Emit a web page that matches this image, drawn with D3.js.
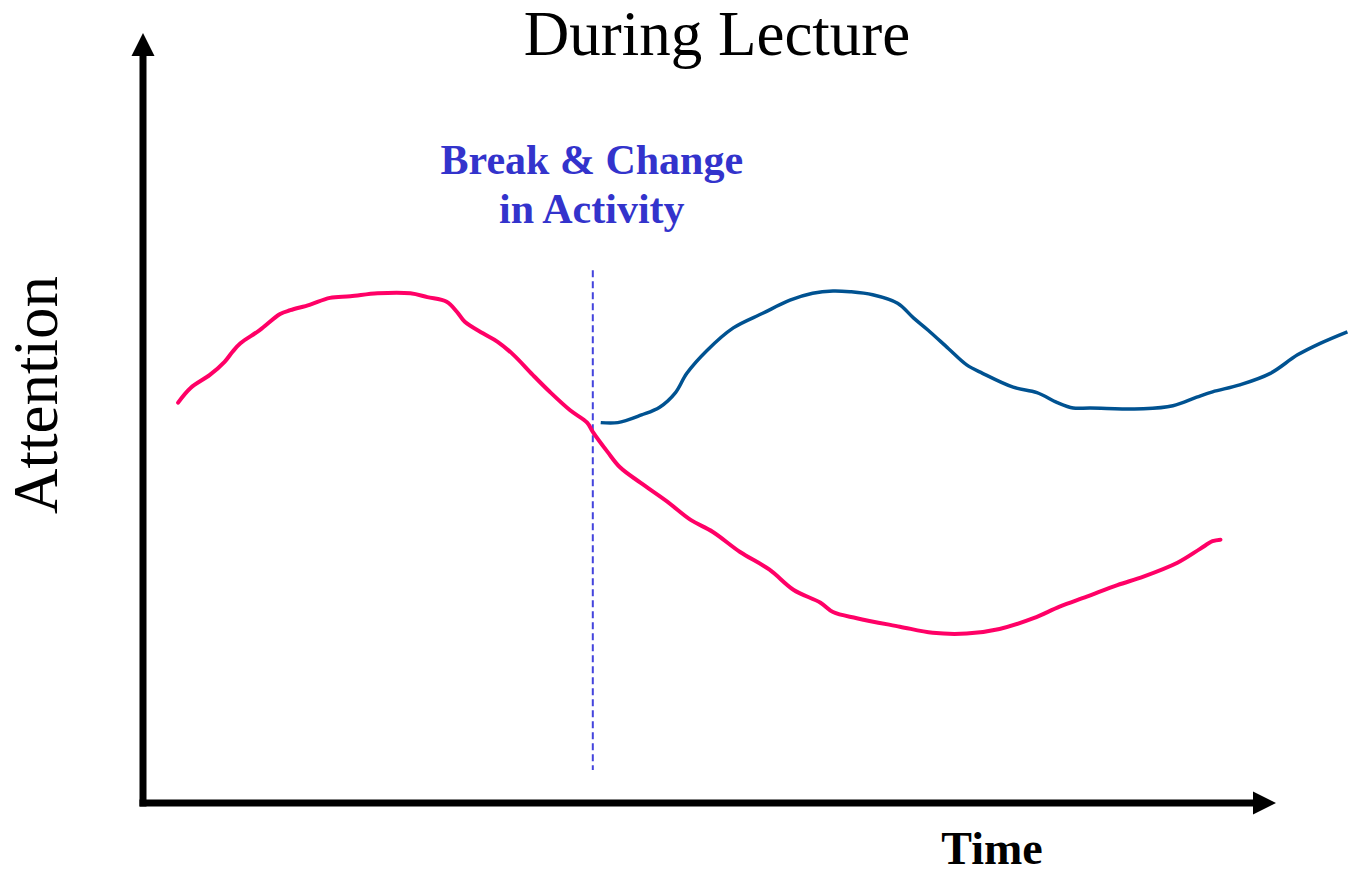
<!DOCTYPE html>
<html>
<head>
<meta charset="utf-8">
<script src="https://cdn.jsdelivr.net/npm/d3@7"></script>
<style>
  body { margin: 0; background: #fff; }
  text { font-family: "Liberation Serif", "Times New Roman", serif; }
</style>
</head>
<body>
<div id="wrapper"></div>
<script>
// data: time 0-100 along the x axis, attention 0-100 up the y axis

// attention during an uninterrupted lecture
const lectureTime = [3.1, 4.2, 5.9, 7.2, 7.9, 8.6, 10.3, 12.1, 13.0, 14.7, 16.5, 18.3, 20.7, 23.6, 25.1, 26.8,
  27.7, 28.4, 30.0, 31.3, 32.7, 34.4, 35.9, 37.7, 39.2, 39.7, 41.0, 42.1, 43.9, 46.3, 48.3, 50.3, 52.7,
  55.3, 57.4, 59.8, 60.9, 63.0, 66.8, 69.7, 72.7, 75.6, 78.6, 80.9, 83.3, 86.0, 88.3, 91.3, 93.3, 94.4, 95.1]
const lectureAttention = [52.0, 53.9, 55.6, 57.3, 58.6, 59.7, 61.4, 63.5, 64.0, 64.7, 65.6, 65.8, 66.2, 66.2, 65.7, 65.1,
  63.8, 62.5, 61.0, 59.9, 58.2, 55.6, 53.4, 51.0, 49.4, 48.2, 45.6, 43.6, 41.6, 39.1, 36.8, 35.2, 32.6,
  30.3, 27.7, 26.0, 24.8, 24.0, 22.9, 22.1, 22.0, 22.6, 24.0, 25.5, 26.8, 28.3, 29.4, 31.2, 33.0, 34.0, 34.2]

// attention after a break & change in activity
const activityTime = [40.4, 41.9, 44.0, 45.6, 47.0, 48.0, 49.8, 52.1, 54.7, 57.1, 59.1, 60.9, 62.4, 64.4, 66.6,
  68.0, 69.3, 71.1, 72.7, 74.1, 76.8, 78.9, 80.7, 82.1, 83.6, 88.3, 90.9, 93.0, 94.4, 96.8, 99.5, 101.9, 103.9, 106.3]
const activityAttention = [49.4, 49.4, 50.4, 51.4, 53.3, 55.8, 58.8, 61.7, 63.6, 65.3, 66.2, 66.5, 66.4, 66.0, 64.9,
  63.0, 61.4, 59.0, 56.9, 55.8, 54.0, 53.3, 52.0, 51.3, 51.3, 51.2, 51.6, 52.7, 53.4, 54.3, 55.8, 58.2, 59.7, 61.2]

const breakTime = 39.7
const breakSpan = [4.3, 69.2]

const title = "During Lecture"
const breakLabel = ["Break & Change", "in Activity"]
const xLabel = "Time"
const yLabel = "Attention"

// dimensions

const dimensions = {
  width: 1348,
  height: 874,
  margin: { top: 33, right: 72, bottom: 71, left: 143 },
}
dimensions.boundedWidth = dimensions.width - dimensions.margin.left - dimensions.margin.right
dimensions.boundedHeight = dimensions.height - dimensions.margin.top - dimensions.margin.bottom

const svg = d3.select("#wrapper")
  .append("svg")
  .attr("width", dimensions.width)
  .attr("height", dimensions.height)

const bounds = svg.append("g")
  .attr("transform", `translate(${dimensions.margin.left},${dimensions.margin.top})`)

// scales

const xScale = d3.scaleLinear()
  .domain([0, 100])
  .range([0, dimensions.boundedWidth])

const yScale = d3.scaleLinear()
  .domain([0, 100])
  .range([dimensions.boundedHeight, 0])

// axes (plain arrows, no ticks)

const arrowLen = 23
const arrowHalf = 11.5
const x0 = xScale(0)
const y0 = yScale(0)
const xEnd = xScale(100)
const yEnd = yScale(100)

bounds.append("line")
  .attr("x1", x0).attr("x2", x0)
  .attr("y1", y0 + 3.5).attr("y2", yEnd + arrowLen - 1)
  .attr("stroke", "#000").attr("stroke-width", 7)

bounds.append("path")
  .attr("d", `M${x0},${yEnd} L${x0 - arrowHalf},${yEnd + arrowLen} L${x0 + arrowHalf},${yEnd + arrowLen} Z`)
  .attr("fill", "#000")

bounds.append("line")
  .attr("x1", x0 - 3.5).attr("x2", xEnd - arrowLen + 1)
  .attr("y1", y0).attr("y2", y0)
  .attr("stroke", "#000").attr("stroke-width", 7)

bounds.append("path")
  .attr("d", `M${xEnd},${y0} L${xEnd - arrowLen},${y0 - arrowHalf} L${xEnd - arrowLen},${y0 + arrowHalf} Z`)
  .attr("fill", "#000")

// break marker

bounds.append("line")
  .attr("x1", xScale(breakTime)).attr("x2", xScale(breakTime))
  .attr("y1", yScale(breakSpan[1])).attr("y2", yScale(breakSpan[0]))
  .attr("stroke", "#4444dd")
  .attr("stroke-width", 2)
  .attr("stroke-dasharray", "7 4")

// curves

const lineGen = d3.line()
  .x(d => xScale(d[0]))
  .y(d => yScale(d[1]))
  .curve(d3.curveCatmullRom)

bounds.append("path")
  .datum(d3.zip(lectureTime, lectureAttention))
  .attr("d", lineGen)
  .attr("fill", "none")
  .attr("stroke", "#ff0066")
  .attr("stroke-width", 4)
  .attr("stroke-linecap", "round")
  .attr("stroke-linejoin", "round")

bounds.append("path")
  .datum(d3.zip(activityTime, activityAttention))
  .attr("d", lineGen)
  .attr("fill", "none")
  .attr("stroke", "#005291")
  .attr("stroke-width", 3.5)
  .attr("stroke-linejoin", "round")

// labels

svg.append("text")
  .attr("x", 717)
  .attr("y", 55)
  .attr("text-anchor", "middle")
  .style("font-size", "63px")
  .text(title)

svg.selectAll(".break-label")
  .data(breakLabel)
  .join("text")
  .attr("class", "break-label")
  .attr("x", dimensions.margin.left + xScale(breakTime) - 1)
  .attr("y", (d, i) => 174 + i * 49)
  .attr("text-anchor", "middle")
  .style("font-size", "42px")
  .style("font-weight", "bold")
  .style("fill", "#3333cc")
  .text(d => d)

svg.append("text")
  .attr("x", 992)
  .attr("y", 864)
  .attr("text-anchor", "middle")
  .style("font-size", "46px")
  .style("font-weight", "bold")
  .text(xLabel)

svg.append("text")
  .attr("transform", "translate(57,395) rotate(-90)")
  .attr("text-anchor", "middle")
  .style("font-size", "63px")
  .text(yLabel)
</script>
</body>
</html>
